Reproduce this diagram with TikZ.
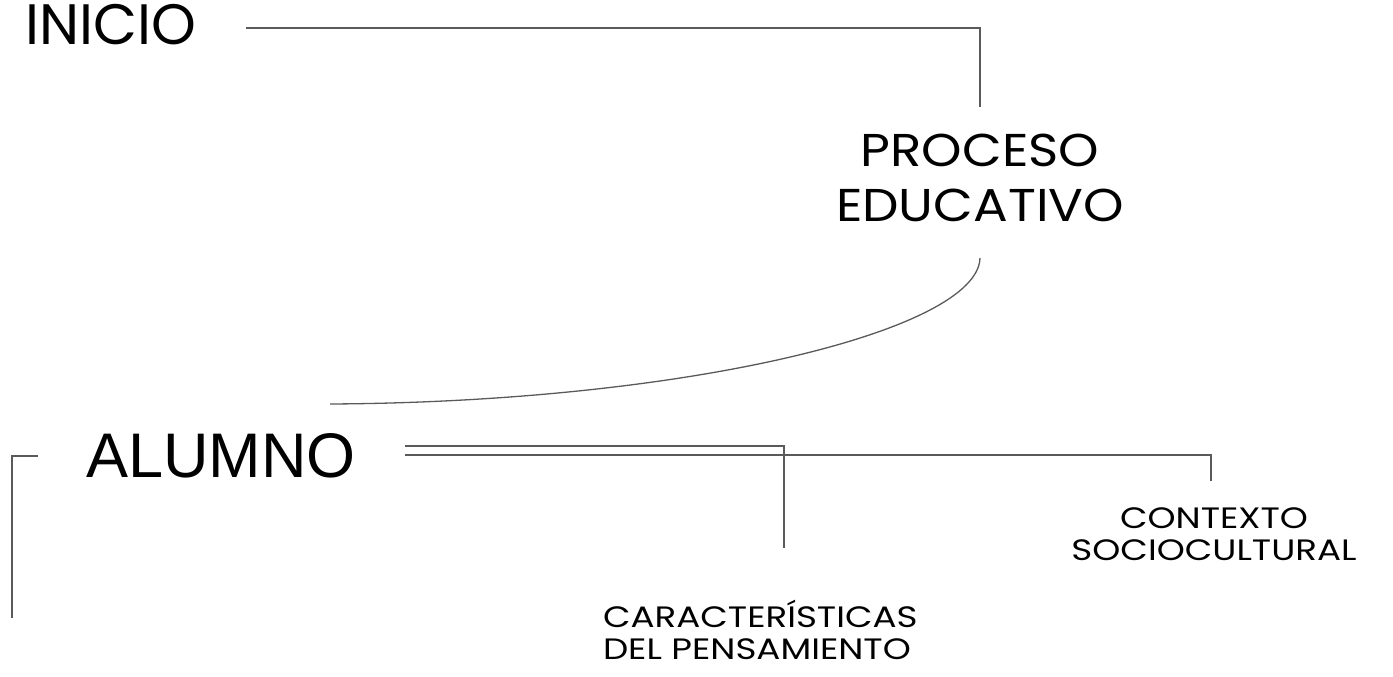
\documentclass[tikz,border=0pt]{standalone}
\usepackage{fontspec}
\usepackage{tikz}
\newfontfamily\popfont{Poppins}
\newfontfamily\popheadfont{Poppins}[FakeStretch=1.12]
\newfontfamily\popsmallfont{Poppins}[FakeStretch=1.21]
\newfontfamily\arialfont{Liberation Sans}
\definecolor{linkgray}{HTML}{5A5A5A}

\begin{document}
\begin{tikzpicture}[x=1pt, y=-1pt,
    every node/.style={inner sep=0pt, outer sep=0pt, text=black},
    title/.style={font=\popfont\fontsize{57}{60}\selectfont},
    heading/.style={font=\popheadfont\fontsize{46}{55}\selectfont, align=center},
    small/.style={font=\popsmallfont\fontsize{29.5}{32}\selectfont},
    link/.style={draw=linkgray, line width=1.3pt}]
\useasboundingbox (0,0) rectangle (1393,677);

% texts
\node (inicio) [title] at (111,25) {INICIO};
\node (proceso) [heading] at (980,178) {PROCESO\\EDUCATIVO};
\node (alumno) [font=\arialfont\fontsize{63}{70}\selectfont] at (221,456) {ALUMNO};
\node (contexto) [small, align=center] at (1214,534) {CONTEXTO\\SOCIOCULTURAL};
\node (caracteristicas) [small, align=left, anchor=west] at (603,630) {CARACTERÍSTICAS\\DEL PENSAMIENTO};

% free ends
\coordinate (inicio end) at (980,107);
\coordinate (curve top) at (980,258);
\coordinate (curve end) at (330,404);
\coordinate (car end) at (784,548);
\coordinate (ctx end) at (1211,481);
\coordinate (brk top) at (38,456);
\coordinate (brk end) at (12,618);

% connectors
\draw[link] ([xshift=50pt,yshift=-3pt]inicio.east) -| (inicio end);
\draw[link] (curve top) .. controls (978,330) and (690,402) .. (curve end);
\draw[link] ([xshift=49pt,yshift=10pt]alumno.east) -| (car end);
\draw[link] ([xshift=49pt,yshift=1pt]alumno.east) -| (ctx end);
\draw[link] (brk top) -| (brk end);
\end{tikzpicture}
\end{document}
